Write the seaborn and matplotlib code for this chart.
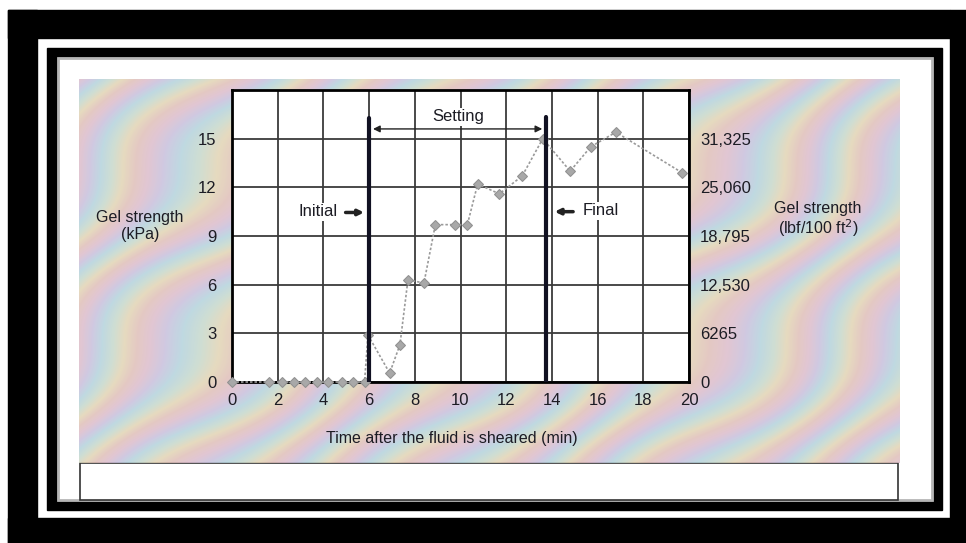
import numpy as np
import matplotlib.pyplot as plt
import seaborn as sns
from matplotlib.patches import Rectangle
from matplotlib.colors import LinearSegmentedColormap

# values
time_min = [0, 1.6, 2.2, 2.7, 3.2, 3.7, 4.2, 4.8, 5.3, 5.8,
            5.95, 6.9, 7.35, 7.7, 8.4, 8.9, 9.75, 10.3, 10.75,
            11.7, 12.7, 13.6, 14.8, 15.7, 16.8, 19.7]
gel_kpa = [0, 0, 0, 0, 0, 0, 0, 0, 0, 0,
           2.9, 0.55, 2.3, 6.3, 6.1, 9.7, 9.7, 9.7, 12.2,
           11.6, 12.7, 15.0, 13.0, 14.5, 15.4, 12.9]
kpa_ticks = [0, 3, 6, 9, 12, 15]
lbf_labels = ['0', '6265', '12,530', '18,795', '25,060', '31,325']
x_ticks = [0, 2, 4, 6, 8, 10, 12, 14, 16, 18, 20]
initial_t = 6.0
final_t = 13.75

W, H = 966, 543
sns.set_style('white')
plt.rcParams['font.family'] = ['Liberation Sans Narrow', 'Liberation Sans', 'DejaVu Sans']
txt = '#1c1c24'

fig = plt.figure(figsize=(W / 100, H / 100), dpi=100)
fig.patch.set_facecolor('white')


def box(x0, y0, x1, y1, **kw):
    # pixel coords, origin top-left; kept behind the axes
    fig.patches.append(Rectangle((x0 / W, 1 - y1 / H), (x1 - x0) / W, (y1 - y0) / H,
                                 transform=fig.transFigure, zorder=-5, **kw))


# decorative frames
box(8, 10, 37, 543, color='black')
box(8, 10, 950, 38, color='black')
box(950, 10, 966, 543, color='black')
box(8, 518, 966, 543, color='black')
box(47, 48, 942, 510, color='black')
box(58, 58, 932, 500, color='white')
box(58, 58, 932, 500, facecolor='none', edgecolor='#b5b5b5', lw=2)
box(80, 463, 898, 500, facecolor='white', edgecolor='#333333', lw=1.2)

# muted iridescent background
bg = fig.add_axes([79 / W, 1 - 463 / H, (900 - 79) / W, (463 - 79) / H])
yy, xx = np.mgrid[0:384, 0:821]
u = (xx + 0.9 * yy) / 80.0 + 0.3 * np.sin(yy / 28.0) + 0.15 * np.sin(xx / 40.0)
pastel = LinearSegmentedColormap.from_list(
    'pastel', ['#dcbccb', '#c8c0dc', '#b4d2dc', '#c6d8cc', '#e2d4b4', '#e0c0b8', '#dcbccb'])
bg.set_facecolor('#d8d2d8')
bg.imshow((u % 1.0), cmap=pastel, aspect='auto', interpolation='bilinear', alpha=0.85)
bg.axis('off')

# main chart
ax = fig.add_axes([232 / W, 1 - 382 / H, (689 - 232) / W, (382 - 90) / H])
ax.set_facecolor('white')
sns.lineplot(x=time_min, y=gel_kpa, ax=ax, color='#9a9a9a', lw=1.2, linestyle=(0, (1.5, 1.2)),
             marker='D', markersize=5, markeredgecolor='#909090', markerfacecolor='#a8a8a8',
             zorder=5, clip_on=False)
ax.set_xlim(0, 20)
ax.set_ylim(0, 18)
ax.set_xticks(x_ticks)
ax.set_yticks(kpa_ticks + [18])
ax.set_yticklabels([str(v) for v in kpa_ticks] + [''])
ax.grid(True, color='#3a3a3a', lw=1.3)
ax.set_axisbelow(True)
for s in ax.spines.values():
    s.set_color('black')
    s.set_linewidth(2)
ax.tick_params(axis='both', length=0, labelsize=12, colors=txt)
ax.tick_params(axis='x', pad=8)
ax.tick_params(axis='y', pad=11)
ax.set_xlabel('')
ax.set_ylabel('')

ax2 = ax.twinx()
ax2.set_ylim(0, 18)
ax2.set_yticks(kpa_ticks)
ax2.set_yticklabels(lbf_labels)
ax2.tick_params(axis='y', length=0, labelsize=12, colors=txt, pad=8)
for s in ax2.spines.values():
    s.set_visible(False)

# initial / final set markers
ax.plot([initial_t, initial_t], [0, 16.25], color='#111122', lw=3, zorder=6)
ax.plot([final_t, final_t], [0, 16.35], color='#111122', lw=3, zorder=6)
ax.annotate('', xy=(initial_t + 0.05, 15.6), xytext=(final_t - 0.05, 15.6),
            arrowprops=dict(arrowstyle='<|-|>', color='#222222', lw=1, mutation_scale=10), zorder=7)
ax.text(9.9, 16.35, 'Setting', ha='center', va='center', fontsize=12, color=txt,
        bbox=dict(facecolor='white', edgecolor='none', pad=1), zorder=7)
ax.text(3.75, 10.5, 'Initial', ha='center', va='center', fontsize=12, color=txt,
        bbox=dict(facecolor='white', edgecolor='none', pad=1), zorder=7)
ax.annotate('', xy=(5.9, 10.45), xytext=(4.85, 10.45),
            arrowprops=dict(arrowstyle='-|>', color='#222222', lw=2.5, mutation_scale=8), zorder=7)
ax.text(15.35, 10.55, 'Final', ha='left', va='center', fontsize=12, color=txt,
        bbox=dict(facecolor='white', edgecolor='none', pad=1), zorder=7)
ax.annotate('', xy=(14.0, 10.5), xytext=(15.05, 10.5),
            arrowprops=dict(arrowstyle='-|>', color='#222222', lw=2.5, mutation_scale=8), zorder=7)

# axis titles
fig.text(452 / W, 1 - 438 / H, 'Time after the fluid is sheared (min)', ha='center', va='center',
         fontsize=11.5, color=txt)
fig.text(140 / W, 1 - 226 / H, 'Gel strength\n(kPa)', ha='center', va='center',
         fontsize=11.5, color=txt, linespacing=1.1)
fig.text(818 / W, 1 - 220 / H, 'Gel strength\n(lbf/100 ft$^2$)', ha='center', va='center',
         fontsize=11.5, color=txt, linespacing=1.1)

fig.savefig('out.png', dpi=100)
